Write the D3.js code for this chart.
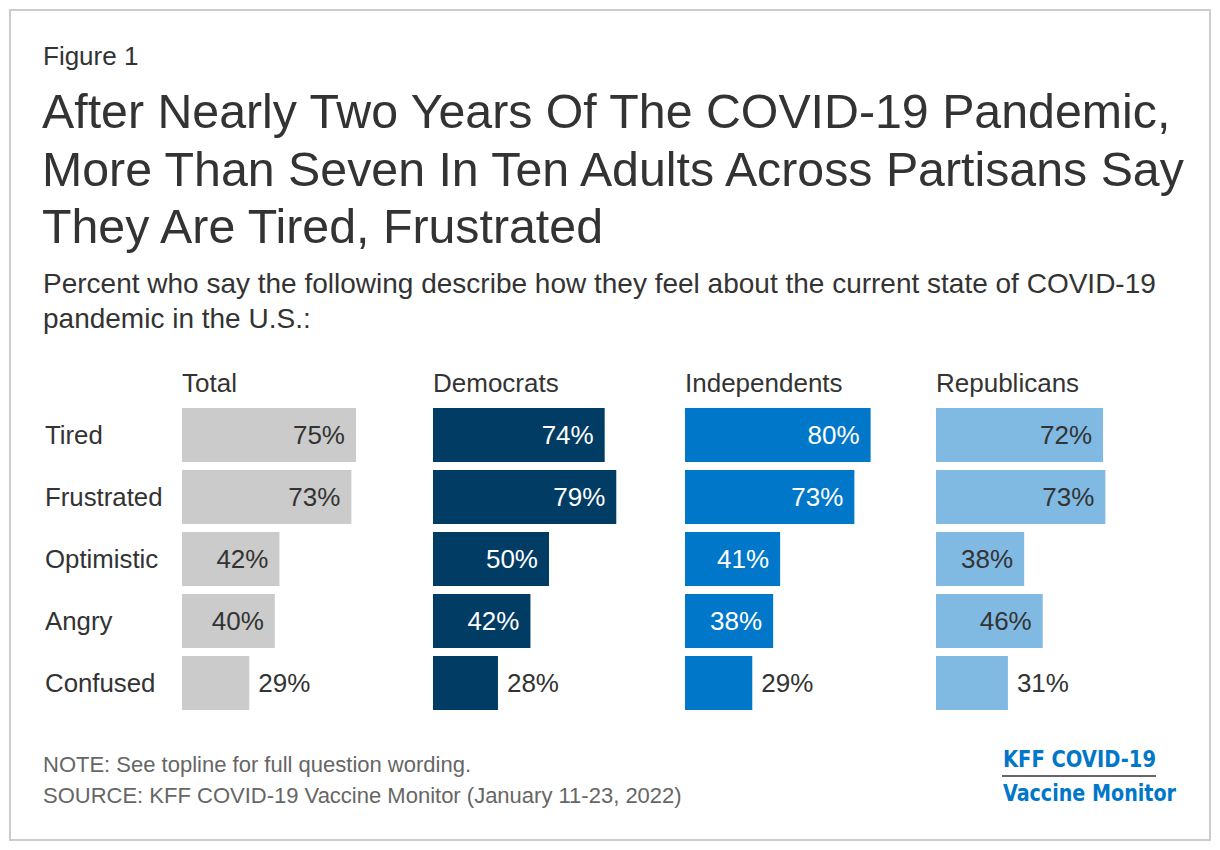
<!DOCTYPE html>
<html>
<head>
<meta charset="utf-8">
<script src="https://cdn.jsdelivr.net/npm/d3@7"></script>
<style>
  body { margin: 0; background: #fff; }
  svg text { font-family: "Liberation Sans", Arial, Helvetica, sans-serif; }
</style>
</head>
<body>
<div id="chart"></div>
<script>
var categories = ["Tired", "Frustrated", "Optimistic", "Angry", "Confused"];
var groups = ["Total", "Democrats", "Independents", "Republicans"];
var totalVals = [75, 73, 42, 40, 29];
var demVals = [74, 79, 50, 42, 28];
var indVals = [80, 73, 41, 38, 29];
var repVals = [72, 73, 38, 46, 31];

var titleLines = [
  "After Nearly Two Years Of The COVID-19 Pandemic,",
  "More Than Seven In Ten Adults Across Partisans Say",
  "They Are Tired, Frustrated"
];
var subtitleLines = [
  "Percent who say the following describe how they feel about the current state of COVID-19",
  "pandemic in the U.S.:"
];

var series = [
  {name: "Total", values: totalVals, fill: "#cbcbcb", text: "#333333"},
  {name: "Democrats", values: demVals, fill: "#003c64", text: "#ffffff"},
  {name: "Independents", values: indVals, fill: "#0077c8", text: "#ffffff"},
  {name: "Republicans", values: repVals, fill: "#80bae3", text: "#333333"}
];

var W = 1220, H = 850;

var svg = d3.select("#chart")
  .append("svg")
  .attr("width", W)
  .attr("height", H);

// frame
svg.append("rect")
  .attr("x", 10).attr("y", 10)
  .attr("width", 1200).attr("height", 830)
  .attr("fill", "#fff")
  .attr("stroke", "#cccccc")
  .attr("stroke-width", 2);

svg.append("text")
  .attr("x", 43).attr("y", 65)
  .attr("font-size", 26)
  .attr("fill", "#333")
  .text("Figure 1");

svg.selectAll(".title")
  .data(titleLines)
  .enter().append("text")
  .attr("class", "title")
  .attr("x", 42)
  .attr("y", function(d, i) { return 128 + i * 57.5; })
  .attr("font-size", 48.3)
  .attr("fill", "#333")
  .text(function(d) { return d; });

svg.selectAll(".subtitle")
  .data(subtitleLines)
  .enter().append("text")
  .attr("class", "subtitle")
  .attr("x", 43)
  .attr("y", function(d, i) { return 293 + i * 35; })
  .attr("font-size", 28)
  .attr("fill", "#333")
  .text(function(d) { return d; });

// scales
var gx = d3.scaleBand()
  .domain(groups)
  .range([182, 182 + 4 * 251.4]);

var x = d3.scaleLinear()
  .domain([0, 100])
  .range([0, 232]);

var y = d3.scaleBand()
  .domain(categories)
  .range([400, 718])
  .padding(8 / 62);

// row labels
svg.selectAll(".rowlabel")
  .data(categories)
  .enter().append("text")
  .attr("class", "rowlabel")
  .attr("x", 45)
  .attr("y", function(d) { return y(d) + y.bandwidth() / 2; })
  .attr("dy", "0.36em")
  .attr("font-size", 25.8)
  .attr("fill", "#333")
  .text(function(d) { return d; });

var panel = svg.selectAll(".panel")
  .data(series)
  .enter().append("g")
  .attr("class", "panel")
  .attr("transform", function(d) { return "translate(" + Math.round(gx(d.name)) + ",0)"; });

panel.append("text")
  .attr("x", 0)
  .attr("y", 392)
  .attr("font-size", 26)
  .attr("fill", "#333")
  .text(function(d) { return d.name; });

panel.each(function(s) {
  var g = d3.select(this);
  var rows = s.values.map(function(v, i) { return {cat: categories[i], v: v}; });

  g.selectAll("rect")
    .data(rows)
    .enter().append("rect")
    .attr("x", 0)
    .attr("y", function(d) { return y(d.cat); })
    .attr("width", function(d) { return x(d.v); })
    .attr("height", y.bandwidth())
    .attr("fill", s.fill);

  g.selectAll(".val")
    .data(rows)
    .enter().append("text")
    .attr("class", "val")
    .attr("x", function(d) { return d.v < 35 ? x(d.v) + 9 : x(d.v) - 11; })
    .attr("y", function(d) { return y(d.cat) + y.bandwidth() / 2; })
    .attr("dy", "0.36em")
    .attr("text-anchor", function(d) { return d.v < 35 ? "start" : "end"; })
    .attr("font-size", 26)
    .attr("fill", function(d) { return d.v < 35 ? "#333" : s.text; })
    .text(function(d) { return d.v + "%"; });
});

// notes
svg.append("text")
  .attr("x", 43).attr("y", 772)
  .attr("font-size", 22)
  .attr("fill", "#666")
  .text("NOTE: See topline for full question wording.");

svg.append("text")
  .attr("x", 43).attr("y", 803)
  .attr("font-size", 22)
  .attr("fill", "#666")
  .text("SOURCE: KFF COVID-19 Vaccine Monitor (January 11-23, 2022)");

// logo
var logo = svg.append("g");
logo.append("text")
  .attr("x", 1003).attr("y", 767)
  .attr("font-size", 23)
  .attr("font-weight", "bold")
  .attr("fill", "#0077c8")
  .attr("textLength", 153)
  .attr("lengthAdjust", "spacingAndGlyphs")
  .style("font-family", "'Liberation Sans Narrow', 'DejaVu Sans Condensed', sans-serif")
  .text("KFF COVID-19");
logo.append("line")
  .attr("x1", 1002).attr("x2", 1156)
  .attr("y1", 776).attr("y2", 776)
  .attr("stroke", "#333")
  .attr("stroke-width", 1.5);
logo.append("text")
  .attr("x", 1003).attr("y", 801)
  .attr("font-size", 23)
  .attr("font-weight", "bold")
  .attr("fill", "#0077c8")
  .attr("textLength", 173)
  .attr("lengthAdjust", "spacingAndGlyphs")
  .style("font-family", "'Liberation Sans Narrow', 'DejaVu Sans Condensed', sans-serif")
  .text("Vaccine Monitor");
</script>
</body>
</html>
